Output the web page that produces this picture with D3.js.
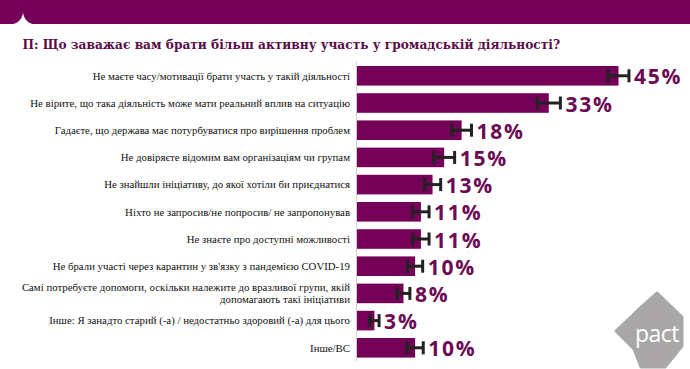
<!DOCTYPE html>
<html><head><meta charset="utf-8">
<script src="https://cdn.jsdelivr.net/npm/d3@7"></script>
<style>body{margin:0;background:#fff}svg{display:block}</style>
</head><body>
<svg id="c" width="690" height="369"></svg>
<script>
const title = "П: Що заважає вам брати більш активну участь у громадській діяльності?";
const categories = [
  ["Не маєте часу/мотивації брати участь у такій діяльності"],
  ["Не вірите, що така діяльність може мати реальний вплив на ситуацію"],
  ["Гадаєте, що держава має потурбуватися про вирішення проблем"],
  ["Не довіряєте відомим вам організаціям чи групам"],
  ["Не знайшли ініціативу, до якої хотіли би приєднатися"],
  ["Ніхто не запросив/не попросив/ не запропонував"],
  ["Не знаєте про доступні можливості"],
  ["Не брали участі через карантин у зв'язку з пандемією COVID-19"],
  ["Самі потребуєте допомоги, оскільки належите до вразливої групи, якій", "допомагають такі ініціативи"],
  ["Інше: Я занадто старий (-а) / недостатньо здоровий (-а) для цього"],
  ["Інше/ВС"]
];
const values = [45, 33, 18, 15, 13, 11, 11, 10, 8, 3, 10];
const errors = [1.8, 2.0, 1.7, 1.8, 1.4, 1.4, 1.4, 1.3, 1.1, 0.8, 1.4];
const valueLabels = ["45%", "33%", "18%", "15%", "13%", "11%", "11%", "10%", "8%", "3%", "10%"];

const svg = d3.select("#c");
const purple = "#740058";

// banner
svg.append("rect").attr("x",0).attr("y",0).attr("width",690).attr("height",24).attr("fill",purple);
svg.append("path").attr("d","M10,24.5 A13,13 0 0 0 23,11.5 A13,13 0 0 0 36,24.5 Z").attr("fill","#fff");

const tt = svg.append("text").attr("x",22.5).attr("y",49.3)
  .attr("font-family","'DejaVu Serif', serif").attr("font-weight","bold")
  .attr("font-size",13).attr("fill","#5c0b49").text(title);
{
  const w = tt.node().getComputedTextLength();
  if (w > 0) tt.attr("font-size", 13 * 538 / w);
}

const idx = d3.range(values.length);
const y = d3.scaleBand().domain(idx).range([62.2, 361.4]).paddingInner(0.28).paddingOuter(0.14);
const x = d3.scaleLinear().domain([0, 45]).range([357, 618.5]);

svg.append("line").attr("x1",356.5).attr("x2",356.5).attr("y1",62).attr("y2",361)
  .attr("stroke","#cfcfcf").attr("stroke-width",1);

svg.selectAll("rect.bar").data(idx).join("rect").attr("class","bar")
  .attr("x", x(0)).attr("y", i=>y(i)).attr("width", i=>x(values[i])-x(0)).attr("height", y.bandwidth())
  .attr("fill", purple);

// category labels
const lab = svg.selectAll("text.cat").data(idx).join("text").attr("class","cat")
  .attr("text-anchor","end").attr("font-family","'Liberation Serif', serif")
  .attr("font-size",10.8).attr("fill","#111");
lab.each(function(i){
  const lines = categories[i];
  const cy = y(i) + y.bandwidth()/2;
  const lh = 11.5;
  const t = d3.select(this);
  lines.forEach((s,k)=>{
    t.append("tspan").attr("x",350).attr("y", cy + 3.7 + (k - (lines.length-1)/2)*lh).text(s);
  });
});

// error bars
const eg = svg.selectAll("g.err").data(idx).join("g").attr("class","err").attr("stroke","#222");
eg.append("line").attr("x1",i=>x(values[i]-errors[i])).attr("x2",i=>x(values[i]+errors[i]))
  .attr("y1",i=>y(i)+y.bandwidth()/2).attr("y2",i=>y(i)+y.bandwidth()/2).attr("stroke-width",3);
[-1,1].forEach(s=>{
  eg.append("line").attr("x1",i=>x(values[i]+s*errors[i])).attr("x2",i=>x(values[i]+s*errors[i]))
    .attr("y1",i=>y(i)+y.bandwidth()/2-6.5).attr("y2",i=>y(i)+y.bandwidth()/2+6.5).attr("stroke-width",3);
});

// value labels
svg.selectAll("text.val").data(idx).join("text").attr("class","val")
  .attr("x", i=>x(values[i]+errors[i])+5).attr("y", i=>y(i)+y.bandwidth()/2+8.5)
  .attr("font-family","'Open Sans', sans-serif").attr("font-weight","bold")
  .attr("font-size",21).attr("letter-spacing",1.8).attr("fill","#6c0a55").text(i=>valueLabels[i]);

// logo
const lg = svg.append("g");
lg.append("path").attr("d","M657,293 L682,317 L682,346 L665,367 L641,367 L634,349 L616,331 L633,315 L640,308 Z")
  .attr("fill","#a9a7a7").attr("stroke","#a9a7a7").attr("stroke-width",3).attr("stroke-linejoin","round");
lg.append("text").attr("x",657).attr("y",341.5).attr("text-anchor","middle")
  .attr("font-family","'Open Sans', sans-serif").attr("font-size",23).attr("letter-spacing",-0.5)
  .attr("fill","#fff").text("pact");
</script>
</body></html>
